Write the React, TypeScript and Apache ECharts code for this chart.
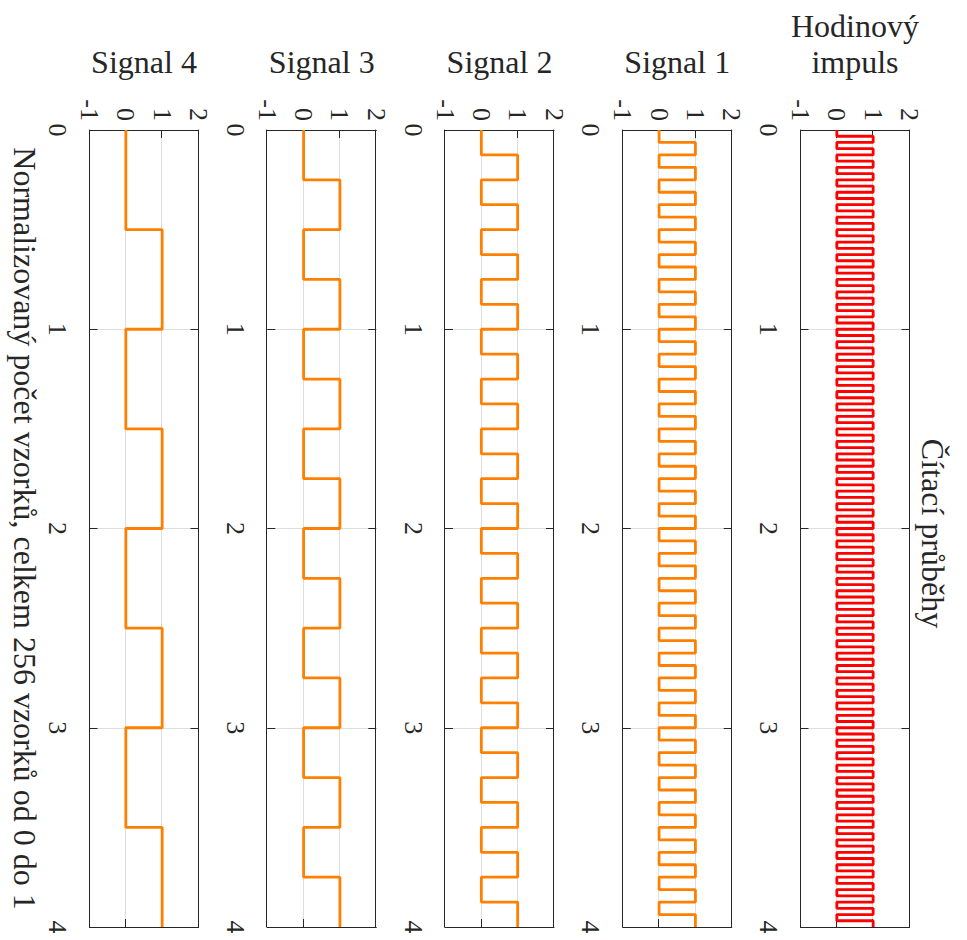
import React, { useEffect, useRef } from "react";
import * as echarts from "echarts";

// Axis ticks shared by every panel
const xTicks = [0, 1, 2, 3, 4];
const yTicks = [-1, 0, 1, 2];

const panelNames = ["Hodinový\nimpuls", "Signal 1", "Signal 2", "Signal 3", "Signal 4"];
const lineColors = ["#ff0000", "#ff8000", "#ff8000", "#ff8000", "#ff8000"];

const chartTitle = "Čítací průběhy";
const xAxisTitle = "Normalizovaný počet vzorků, celkem 256 vzorků od 0 do 1";

// Logic levels: one string per unit of x, one character per 1/32 of a unit
const clockLevels = [
  "01010101010101010101010101010101",
  "01010101010101010101010101010101",
  "01010101010101010101010101010101",
  "01010101010101010101010101010101",
];
const signal1Levels = [
  "00110011001100110011001100110011",
  "00110011001100110011001100110011",
  "00110011001100110011001100110011",
  "00110011001100110011001100110011",
];
const signal2Levels = [
  "00001111000011110000111100001111",
  "00001111000011110000111100001111",
  "00001111000011110000111100001111",
  "00001111000011110000111100001111",
];
const signal3Levels = [
  "00000000111111110000000011111111",
  "00000000111111110000000011111111",
  "00000000111111110000000011111111",
  "00000000111111110000000011111111",
];
const signal4Levels = [
  "00000000000000001111111111111111",
  "00000000000000001111111111111111",
  "00000000000000001111111111111111",
  "00000000000000001111111111111111",
];

const panelLevels = [clockLevels, signal1Levels, signal2Levels, signal3Levels, signal4Levels];

const FONT = "'Liberation Serif', 'Times New Roman', serif";
const INK = "#262626";
const GRID_GRAY = "#dedede";
const TICK_FONT = 26;
const LABEL_FONT = 32;

// Turn level strings into step-line points [x, level]
function toSteps(levels: string[]): [number, number][] {
  const pts: [number, number][] = [];
  levels.forEach((chunk, unit) => {
    for (let j = 0; j < chunk.length; j++) {
      pts.push([unit + j / chunk.length, Number(chunk[j])]);
    }
  });
  pts.push([levels.length, pts[pts.length - 1][1]]);
  return pts;
}

// Chart is laid out with horizontal x axes and turned 90° clockwise on the page
const CHART_W = 940;
const CHART_H = 967;
const PLOT_LEFT = 130;
const PLOT_WIDTH = 797;
const PANEL_TOPS = [57.5, 235.25, 413, 590.75, 768.5];
const PANEL_HEIGHT = 109;

function buildOption(): echarts.EChartsOption {
  const grids: any[] = [];
  const xAxes: any[] = [];
  const yAxes: any[] = [];
  const series: any[] = [];
  const xMin = xTicks[0];
  const xMax = xTicks[xTicks.length - 1];
  const yMin = yTicks[0];
  const yMax = yTicks[yTicks.length - 1];

  const lineStyle = { color: INK, width: 1 };
  const tickStyle = { show: true, inside: true, length: 8, lineStyle: { color: INK, width: 1 } };

  panelNames.forEach((name, i) => {
    grids.push({ left: PLOT_LEFT, width: PLOT_WIDTH, top: PANEL_TOPS[i], height: PANEL_HEIGHT });
    const last = i === panelNames.length - 1;
    xAxes.push({
      gridIndex: i,
      type: "value",
      position: "bottom",
      min: xMin,
      max: xMax,
      interval: 1,
      axisLine: { show: true, onZero: false, lineStyle },
      axisTick: tickStyle,
      axisLabel: { margin: 19, fontSize: TICK_FONT, color: INK, fontFamily: FONT },
      splitLine: { show: true, lineStyle: { color: GRID_GRAY, width: 1 } },
      name: last ? xAxisTitle : "",
      nameLocation: "middle",
      nameGap: 49,
      nameTextStyle: { fontSize: LABEL_FONT, color: INK, fontFamily: FONT },
    });
    xAxes.push({
      gridIndex: i,
      type: "value",
      position: "top",
      min: xMin,
      max: xMax,
      interval: 1,
      axisLine: { show: true, onZero: false, lineStyle },
      axisTick: tickStyle,
      axisLabel: { show: false },
      splitLine: { show: false },
    });
    yAxes.push({
      gridIndex: i,
      type: "value",
      position: "left",
      min: yMin,
      max: yMax,
      interval: 1,
      axisLine: { show: true, onZero: false, lineStyle },
      axisTick: tickStyle,
      axisLabel: { margin: 9, fontSize: TICK_FONT, color: INK, fontFamily: FONT },
      splitLine: { show: true, lineStyle: { color: GRID_GRAY, width: 1 } },
      name,
      nameLocation: "middle",
      nameRotate: 90,
      nameGap: 50,
      nameTextStyle: { fontSize: LABEL_FONT, lineHeight: 36, color: INK, fontFamily: FONT },
    });
    yAxes.push({
      gridIndex: i,
      type: "value",
      position: "right",
      min: yMin,
      max: yMax,
      interval: 1,
      axisLine: { show: true, onZero: false, lineStyle },
      axisTick: tickStyle,
      axisLabel: { show: false },
      splitLine: { show: false },
    });
    series.push({
      type: "line",
      xAxisIndex: 2 * i,
      yAxisIndex: 2 * i,
      step: "end",
      showSymbol: false,
      symbol: "none",
      lineStyle: { color: lineColors[i], width: 2.8 },
      data: toSteps(panelLevels[i]),
      z: 3,
    });
  });

  return {
    animation: false,
    backgroundColor: "#ffffff",
    title: {
      text: chartTitle,
      left: PLOT_LEFT + PLOT_WIDTH / 2,
      top: 13,
      textAlign: "center",
      textStyle: { fontSize: LABEL_FONT, fontWeight: "normal", color: INK, fontFamily: FONT },
    },
    grid: grids,
    xAxis: xAxes,
    yAxis: yAxes,
    series,
  };
}

export default function App() {
  const ref = useRef<HTMLDivElement>(null);

  useEffect(() => {
    if (!ref.current) return;
    const chart = echarts.init(ref.current, undefined, { renderer: "svg" });
    chart.setOption(buildOption());
    return () => chart.dispose();
  }, []);

  return (
    <div
      style={{
        position: "absolute",
        left: 0,
        top: 0,
        width: CHART_H,
        height: CHART_W,
        overflow: "hidden",
        background: "#ffffff",
      }}
    >
      <div
        ref={ref}
        style={{
          position: "absolute",
          left: 0,
          top: 0,
          width: CHART_W,
          height: CHART_H,
          transformOrigin: "0 0",
          transform: `translateX(${CHART_H}px) rotate(90deg)`,
        }}
      />
    </div>
  );
}
